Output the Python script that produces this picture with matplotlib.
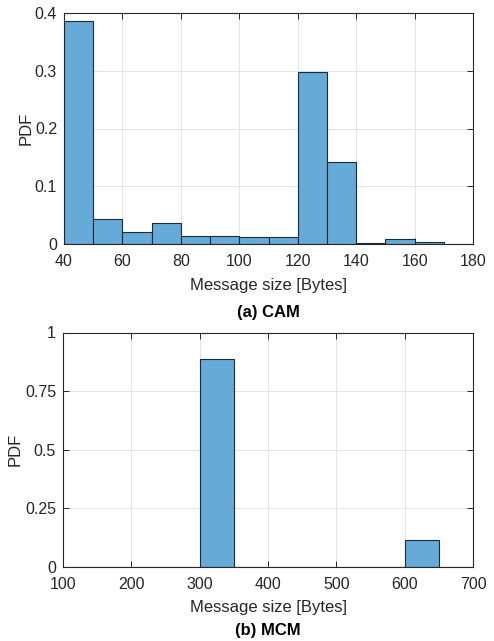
import numpy as np
import matplotlib
matplotlib.use("Agg")
import matplotlib.pyplot as plt

plt.rcParams['font.family'] = ['Liberation Sans', 'DejaVu Sans']

# CAM histogram (bin edges 40..180, width 10)
cam_edges = np.arange(40, 190, 10)
cam_pdf = [0.387, 0.043, 0.021, 0.036, 0.014, 0.013, 0.012, 0.012,
           0.297, 0.142, 0.002, 0.0087, 0.0035, 0.0]

# MCM histogram (bin edges 100..700, width 50)
mcm_edges = np.arange(100, 750, 50)
mcm_pdf = [0, 0, 0, 0, 0.885, 0, 0, 0, 0, 0, 0.115, 0]

face = (0.4, 0.668, 0.845)
edge = '#1c2b3a'
txt = '#262626'


def style(ax):
    ax.grid(True, color='#e3e3e3', linewidth=0.7)
    ax.set_axisbelow(True)
    ax.tick_params(direction='in', top=True, right=True, length=4,
                   labelsize=11.5, colors=txt, width=0.7)
    ax.tick_params(axis='x', pad=7)
    ax.tick_params(axis='y', pad=5)
    for s in ax.spines.values():
        s.set_color('#262626')
        s.set_linewidth(0.8)


fig = plt.figure(figsize=(4.94, 6.41), dpi=100)

ax1 = fig.add_axes([64/494, 1-244/641, 409/494, 231/641])
ax1.bar(cam_edges[:-1], cam_pdf, width=np.diff(cam_edges), align='edge',
        color=face, edgecolor=edge, linewidth=0.8)
ax1.set_xlim(40, 180)
ax1.set_ylim(0, 0.4)
ax1.set_xticks(np.arange(40, 200, 20))
ax1.set_yticks([0, 0.1, 0.2, 0.3, 0.4])
ax1.set_yticklabels(['0', '0.1', '0.2', '0.3', '0.4'])
style(ax1)
ax1.set_xlabel('Message size [Bytes]', fontsize=12, color=txt, labelpad=7)
ax1.set_ylabel('PDF', fontsize=12, color=txt, labelpad=1)
fig.text(268/494, 1-313/641, '(a) CAM', ha='center', va='center',
         fontsize=12, fontweight='bold', color='black')

ax2 = fig.add_axes([63/494, 1-567/641, 410/494, 234.5/641])
ax2.bar(mcm_edges[:-1], mcm_pdf, width=np.diff(mcm_edges), align='edge',
        color=face, edgecolor=edge, linewidth=0.8)
ax2.set_xlim(100, 700)
ax2.set_ylim(0, 1)
ax2.set_xticks(np.arange(100, 800, 100))
ax2.set_yticks([0, 0.25, 0.5, 0.75, 1])
ax2.set_yticklabels(['0', '0.25', '0.5', '0.75', '1'])
style(ax2)
ax2.set_xlabel('Message size [Bytes]', fontsize=12, color=txt, labelpad=6)
ax2.set_ylabel('PDF', fontsize=12, color=txt, labelpad=2)
fig.text(268/494, 1-630/641, '(b) MCM', ha='center', va='center',
         fontsize=12, fontweight='bold', color='black')

fig.savefig('out.png', dpi=100)
